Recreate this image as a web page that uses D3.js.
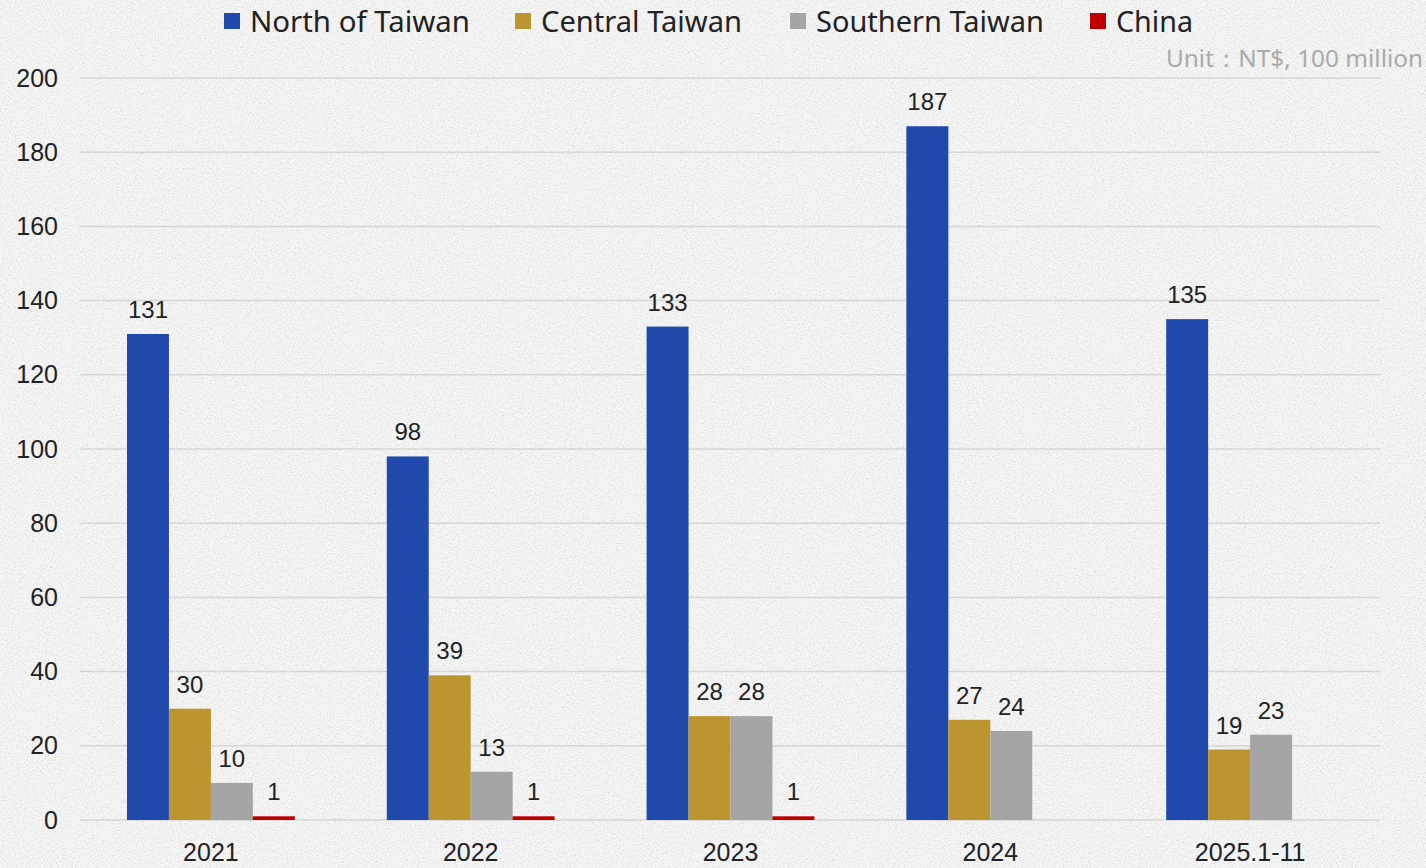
<!DOCTYPE html>
<html>
<head>
<meta charset="utf-8">
<script src="https://cdn.jsdelivr.net/npm/d3@7"></script>
<style>
  html, body { margin: 0; padding: 0; background: #f2f2f2; }
  svg { display: block; }
</style>
</head>
<body>
<div id="chart"></div>
<script>
const width = 1426;
const height = 868;

// data
const years = ["2021", "2022", "2023", "2024", "2025.1-11"];
const seriesNames = ["North of Taiwan", "Central Taiwan", "Southern Taiwan", "China"];
const northVals = [131, 98, 133, 187, 135];
const centralVals = [30, 39, 28, 27, 19];
const southVals = [10, 13, 28, 24, 23];
const chinaVals = [1, 1, 1, null, null];
const yTicks = [0, 20, 40, 60, 80, 100, 120, 140, 160, 180, 200];
const colors = ["#1f4aab", "#bd9530", "#a5a5a5", "#c00000"];

const allSeries = [northVals, centralVals, southVals, chinaVals];

const margin = {top: 78, right: 46, bottom: 48, left: 81};
const innerW = width - margin.left - margin.right;
const innerH = height - margin.top - margin.bottom;
const numFont = "Liberation Sans, Arial, sans-serif";

const svg = d3.select("#chart").append("svg")
  .attr("width", width)
  .attr("height", height);

// paper texture background
const defs = svg.append("defs");
const filt = defs.append("filter").attr("id", "paper")
  .attr("x", 0).attr("y", 0).attr("width", "100%").attr("height", "100%");
filt.append("feTurbulence")
  .attr("type", "fractalNoise")
  .attr("baseFrequency", "0.6")
  .attr("numOctaves", 3)
  .attr("seed", 7)
  .attr("result", "noise");
filt.append("feColorMatrix")
  .attr("in", "noise")
  .attr("type", "matrix")
  .attr("values", "0 0 0 0 0.55  0 0 0 0 0.55  0 0 0 0 0.55  -2.2 0 0 0 1.25");

svg.append("rect").attr("width", width).attr("height", height).attr("fill", "#f6f6f6");
svg.append("rect").attr("width", width).attr("height", height)
  .attr("filter", "url(#paper)").attr("opacity", 0.5);

const g = svg.append("g").attr("transform", `translate(${margin.left},${margin.top})`);

const x0 = d3.scaleBand().domain(years).range([0, innerW]).paddingInner(0.354).paddingOuter(0.177);
const x1 = d3.scaleBand().domain(seriesNames).range([0, x0.bandwidth()]);
const y = d3.scaleLinear().domain([0, 200]).range([innerH, 0]);

// gridlines
g.append("g")
  .selectAll("line")
  .data(yTicks)
  .join("line")
  .attr("x1", -1)
  .attr("x2", innerW)
  .attr("y1", d => y(d))
  .attr("y2", d => y(d))
  .attr("stroke", "#d6d6d6")
  .attr("stroke-width", 1.5);

// y axis labels
const yAxis = g.append("g")
  .attr("transform", "translate(-23,0)")
  .call(d3.axisLeft(y).tickValues(yTicks).tickSize(0).tickPadding(0));
yAxis.select(".domain").remove();
yAxis.selectAll("text")
  .attr("font-family", numFont)
  .attr("font-size", 25)
  .attr("fill", "#222");

// x axis labels
const xAxis = g.append("g")
  .attr("transform", `translate(0,${innerH})`)
  .call(d3.axisBottom(x0).tickSize(0).tickPadding(23));
xAxis.select(".domain").remove();
xAxis.selectAll("text")
  .attr("font-family", numFont)
  .attr("font-size", 25)
  .attr("fill", "#222");

// bars
const groups = g.selectAll(".yr")
  .data(years)
  .join("g")
  .attr("class", "yr")
  .attr("transform", d => `translate(${x0(d)},0)`);

groups.each(function(yr, i) {
  const rows = seriesNames.map((s, k) => ({s, k, v: allSeries[k][i]})).filter(d => d.v != null);
  const sel = d3.select(this);
  sel.selectAll("rect")
    .data(rows)
    .join("rect")
    .attr("x", d => x1(d.s))
    .attr("width", x1.bandwidth())
    .attr("y", d => y(d.v))
    .attr("height", d => y(0) - y(d.v))
    .attr("fill", d => colors[d.k]);
  sel.selectAll("text")
    .data(rows)
    .join("text")
    .attr("x", d => x1(d.s) + x1.bandwidth() / 2)
    .attr("y", d => y(d.v) - 16)
    .attr("text-anchor", "middle")
    .attr("font-family", numFont)
    .attr("font-size", 24)
    .attr("fill", "#222")
    .text(d => d.v);
});

// legend
const legendX = [224, 515, 790, 1090];
const legendW = [220, 201, 228, 77];
const legend = svg.append("g");
seriesNames.forEach((s, k) => {
  legend.append("rect")
    .attr("x", legendX[k]).attr("y", 13)
    .attr("width", 16).attr("height", 16)
    .attr("fill", colors[k]);
  legend.append("text")
    .attr("x", legendX[k] + 26).attr("y", 32)
    .attr("font-family", "Noto Sans, Open Sans, sans-serif")
    .attr("font-size", 29)
    .attr("textLength", legendW[k])
    .attr("lengthAdjust", "spacingAndGlyphs")
    .attr("fill", "#222")
    .text(s);
});

// unit note
svg.append("text")
  .attr("x", 1423).attr("y", 67)
  .attr("text-anchor", "end")
  .attr("font-family", "Noto Sans, Open Sans, sans-serif")
  .attr("font-size", 24)
  .attr("textLength", 257)
  .attr("lengthAdjust", "spacingAndGlyphs")
  .attr("fill", "#aaaaaa")
  .text("Unit：NT$, 100 million");
</script>
</body>
</html>
